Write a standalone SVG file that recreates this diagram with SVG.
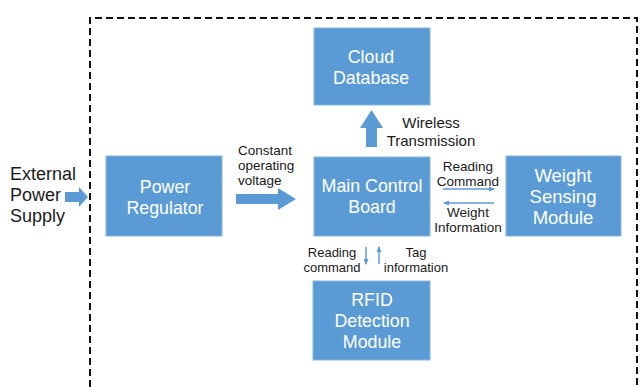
<svg xmlns="http://www.w3.org/2000/svg" width="640" height="387" viewBox="0 0 640 387">
<style>
.box{fill:#5b9bd5;stroke:#8ab6e0;stroke-width:1}
.bt{font-family:"Liberation Sans",Arial,sans-serif;font-size:17.8px;fill:#fff;text-anchor:middle}
.lt{font-family:"Liberation Sans",Arial,sans-serif;font-size:13.5px;fill:#1a1a1a}
.big{font-family:"Liberation Sans",Arial,sans-serif;font-size:18px;fill:#1a1a1a}
.blk{fill:#5b9bd5}
.thin{stroke:#5b9bd5;stroke-width:1.5;fill:none}
</style>
<defs>
<marker id="ah" markerWidth="6" markerHeight="6" refX="5" refY="3" orient="auto" markerUnits="userSpaceOnUse">
<path d="M0,0.5 L6,3 L0,5.5 Z" fill="#5b9bd5"/>
</marker>
</defs>
<rect x="0" y="0" width="640" height="387" fill="#fff"/>
<path d="M90,387 L90,18 L637,18 L637,387" fill="none" stroke="#111" stroke-width="2" stroke-dasharray="7,4"/>
<g id="external">
<text class="big" x="10" y="180">External</text>
<text class="big" x="10" y="201">Power</text>
<text class="big" x="10" y="222">Supply</text>
</g>
<g id="cloud">
<rect class="box" x="314" y="28" width="116" height="77"/>
<text class="bt" x="371" y="63">Cloud</text>
<text class="bt" x="371" y="84">Database</text>
</g>
<g id="power">
<rect class="box" x="106" y="156" width="116" height="80"/>
<text class="bt" x="165" y="193">Power</text>
<text class="bt" x="165" y="214">Regulator</text>
</g>
<g id="main">
<rect class="box" x="314" y="157" width="116" height="79"/>
<text class="bt" x="372" y="192">Main Control</text>
<text class="bt" x="372" y="213">Board</text>
</g>
<g id="weight">
<rect class="box" x="506" y="156" width="115" height="80"/>
<text class="bt" x="563" y="182" style="font-size:18.5px">Weight</text>
<text class="bt" x="563" y="203" style="font-size:18.5px">Sensing</text>
<text class="bt" x="563" y="224" style="font-size:18.5px">Module</text>
</g>
<g id="rfid">
<rect class="box" x="313" y="281" width="117" height="79"/>
<text class="bt" x="372" y="306">RFID</text>
<text class="bt" x="372" y="327">Detection</text>
<text class="bt" x="372" y="348">Module</text>
</g>
<g id="connectors">
<path class="blk" d="M65,192 L79,192 L79,187 L88,197 L79,207 L79,202 L65,202 Z"/>
<path class="blk" d="M236,194 L278,194 L278,188 L296,199 L278,210 L278,204 L236,204 Z"/>
<path class="blk" d="M366,147 L366,128 L360,128 L371.5,110 L383,128 L377,128 L377,147 Z"/>
<line class="thin" x1="443" y1="189" x2="494" y2="189" marker-end="url(#ah)"/>
<line class="thin" x1="494" y1="203" x2="444" y2="203" marker-end="url(#ah)"/>
<line class="thin" x1="366" y1="247" x2="366" y2="264" marker-end="url(#ah)"/>
<line class="thin" x1="379" y1="264" x2="379" y2="247" marker-end="url(#ah)"/>
<text class="lt" x="238" y="155">Constant</text>
<text class="lt" x="238" y="170">operating</text>
<text class="lt" x="238" y="185">voltage</text>
<text class="lt" x="431" y="128" text-anchor="middle" style="font-size:15px">Wireless</text>
<text class="lt" x="431" y="146" text-anchor="middle" style="font-size:15px">Transmission</text>
<text class="lt" x="468" y="171" text-anchor="middle">Reading</text>
<text class="lt" x="468" y="186" text-anchor="middle">Command</text>
<text class="lt" x="468" y="217" text-anchor="middle">Weight</text>
<text class="lt" x="468" y="232" text-anchor="middle">Information</text>
<text class="lt" x="332" y="257" text-anchor="middle" style="font-size:13px">Reading</text>
<text class="lt" x="332" y="272" text-anchor="middle" style="font-size:13px">command</text>
<text class="lt" x="416" y="257" text-anchor="middle" style="font-size:13px">Tag</text>
<text class="lt" x="416" y="272" text-anchor="middle" style="font-size:13px">information</text>
</g>
</svg>
